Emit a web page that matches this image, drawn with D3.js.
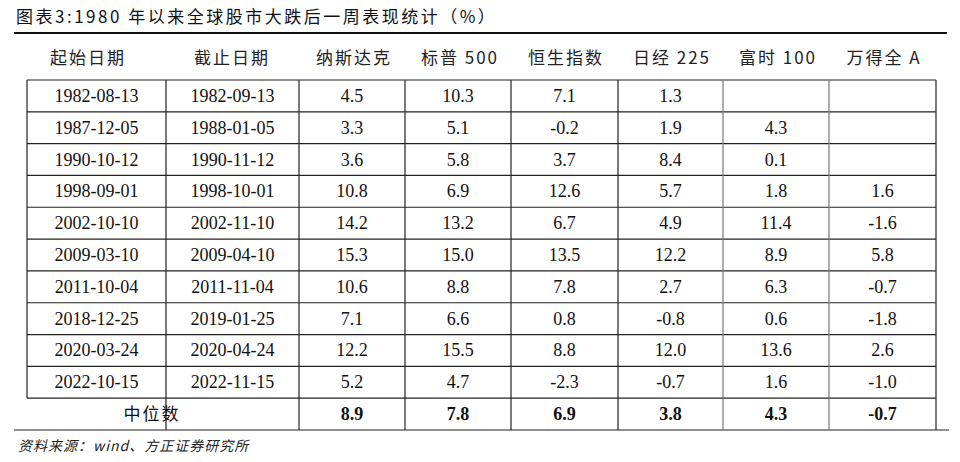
<!DOCTYPE html>
<html><head><meta charset="utf-8">
<script src="https://cdn.jsdelivr.net/npm/d3@7"></script>
<style>body{margin:0;background:#fff}</style>
</head><body><div id="chart"></div>
<script>
var headers = ["起始日期", "截止日期", "纳斯达克", "标普 500", "恒生指数", "日经 225", "富时 100", "万得全 A"];
var startDates = ["1982-08-13","1987-12-05","1990-10-12","1998-09-01","2002-10-10","2009-03-10","2011-10-04","2018-12-25","2020-03-24","2022-10-15"];
var endDates = ["1982-09-13","1988-01-05","1990-11-12","1998-10-01","2002-11-10","2009-04-10","2011-11-04","2019-01-25","2020-04-24","2022-11-15"];
var nasdaq = ["4.5","3.3","3.6","10.8","14.2","15.3","10.6","7.1","12.2","5.2"];
var sp500 = ["10.3","5.1","5.8","6.9","13.2","15.0","8.8","6.6","15.5","4.7"];
var hsi = ["7.1","-0.2","3.7","12.6","6.7","13.5","7.8","0.8","8.8","-2.3"];
var nikkei = ["1.3","1.9","8.4","5.7","4.9","12.2","2.7","-0.8","12.0","-0.7"];
var ftse = ["","4.3","0.1","1.8","11.4","8.9","6.3","0.6","13.6","1.6"];
var wind = ["","","","1.6","-1.6","5.8","-0.7","-1.8","2.6","-1.0"];
var medians = ["8.9","7.8","6.9","3.8","4.3","-0.7"];

var width = 960, height = 462;
var colEdges = [27, 166, 299, 405, 511, 618, 723, 829, 936];
var headerCenters = [88, 232, 354, 460, 566, 672, 778, 884];
var nRows = startDates.length + 1;
var y = d3.scaleLinear().domain([0, nRows]).range([80, 430]);
var cols = [startDates, endDates, nasdaq, sp500, hsi, nikkei, ftse, wind];

var svg = d3.select("#chart").append("svg").attr("width", width).attr("height", height);
var serif = "'Liberation Serif', 'Noto Sans CJK SC', serif";
var cjk = "'Noto Sans CJK SC', sans-serif";

svg.append("text").attr("x", 16).attr("y", 23).attr("font-family", cjk)
  .attr("font-size", "17px").attr("letter-spacing", "2.5px").attr("fill", "#111")
  .text("图表3:1980 年以来全球股市大跌后一周表现统计（%）");
svg.append("line").attr("x1", 14).attr("x2", 947).attr("y1", 33).attr("y2", 33)
  .attr("stroke", "#111").attr("stroke-width", 2.2);

svg.selectAll(".hd").data(headers).enter().append("text")
  .attr("x", function(d, i) { return headerCenters[i]; }).attr("y", 64)
  .attr("text-anchor", "middle").attr("font-family", cjk).attr("font-size", "17px")
  .attr("letter-spacing", "2px").attr("fill", "#222").text(function(d) { return d; });

// grid
var hl = d3.range(nRows + 1);
svg.selectAll(".hl").data(hl).enter().append("line")
  .attr("x1", function(d) { return d == nRows ? 14 : colEdges[0]; })
  .attr("x2", function(d) { return d == nRows ? 949 : colEdges[8]; })
  .attr("y1", function(d) { return y(d); }).attr("y2", function(d) { return y(d); })
  .attr("stroke", "#222").attr("stroke-width", 1.2);
svg.selectAll(".vl").data(colEdges).enter().append("line")
  .attr("x1", function(d) { return d; }).attr("x2", function(d) { return d; })
  .attr("y1", y(0))
  .attr("y2", function(d, i) { return i == 0 ? y(nRows - 1) : y(nRows); })
  .attr("stroke", function(d, i) { return i == 6 || i == 7 ? "#777" : "#222"; })
  .attr("stroke-width", 1.2);

cols.forEach(function(col, c) {
  svg.selectAll(".c" + c).data(col).enter().append("text")
    .attr("x", (colEdges[c] + colEdges[c + 1]) / 2)
    .attr("y", function(d, i) { return (y(i) + y(i + 1)) / 2 + 6; })
    .attr("text-anchor", "middle").attr("font-family", serif).attr("font-size", "18px")
    .attr("fill", "#111").text(function(d) { return d; });
});

var mr = nRows - 1;
svg.append("text").attr("x", 152).attr("y", (y(mr) + y(mr + 1)) / 2 + 6)
  .attr("text-anchor", "middle").attr("font-family", cjk).attr("font-size", "17px")
  .attr("letter-spacing", "2px").attr("fill", "#111").text("中位数");
svg.selectAll(".md").data(medians).enter().append("text")
  .attr("x", function(d, i) { return (colEdges[i + 2] + colEdges[i + 3]) / 2; })
  .attr("y", (y(mr) + y(mr + 1)) / 2 + 6)
  .attr("text-anchor", "middle").attr("font-family", serif).attr("font-size", "18px")
  .attr("font-weight", "bold").attr("fill", "#111").text(function(d) { return d; });

svg.append("text").attr("x", 18).attr("y", 451).attr("font-family", cjk)
  .attr("font-size", "14px").attr("font-style", "italic").attr("letter-spacing", "1px")
  .attr("fill", "#222").text("资料来源：wind、方正证券研究所");
</script></body></html>
